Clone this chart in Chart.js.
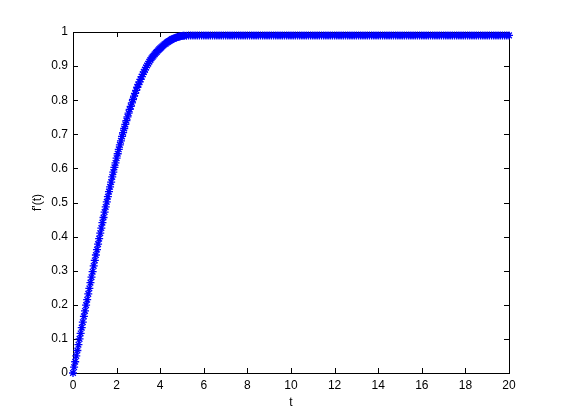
<!DOCTYPE html>
<html>
<head>
<meta charset="utf-8">
<script src="https://cdn.jsdelivr.net/npm/chart.js@4.4.1/dist/chart.umd.min.js"></script>
<style>
  html, body { margin: 0; padding: 0; background: #fff; }
  canvas { display: block; }
</style>
</head>
<body>
<canvas id="myChart" width="561" height="420"></canvas>
<script>
// t samples (dense on the rise, a bit coarser on the flat part)
const tValues = [
  0, 0.05, 0.1, 0.15, 0.2, 0.25, 0.3, 0.35, 0.4, 0.45,
  0.5, 0.55, 0.6, 0.65, 0.7, 0.75, 0.8, 0.85, 0.9, 0.95,
  1, 1.05, 1.1, 1.15, 1.2, 1.25, 1.3, 1.35, 1.4, 1.45,
  1.5, 1.55, 1.6, 1.65, 1.7, 1.75, 1.8, 1.85, 1.9, 1.95,
  2, 2.05, 2.1, 2.15, 2.2, 2.25, 2.3, 2.35, 2.4, 2.45,
  2.5, 2.55, 2.6, 2.65, 2.7, 2.75, 2.8, 2.85, 2.9, 2.95,
  3, 3.05, 3.1, 3.15, 3.2, 3.25, 3.3, 3.35, 3.4, 3.45,
  3.5, 3.55, 3.6, 3.65, 3.7, 3.75, 3.8, 3.85, 3.9, 3.95,
  4, 4.05, 4.1, 4.15, 4.2, 4.25, 4.3, 4.35, 4.4, 4.45,
  4.5, 4.55, 4.6, 4.65, 4.7, 4.75, 4.8, 4.85, 4.9, 4.95,
  5, 5.05, 5.1,
  5.2, 5.3, 5.4, 5.5, 5.6, 5.7, 5.8, 5.9, 6, 6.1,
  6.2, 6.3, 6.4, 6.5, 6.6, 6.7, 6.8, 6.9, 7, 7.1,
  7.2, 7.3, 7.4, 7.5, 7.6, 7.7, 7.8, 7.9, 8, 8.1,
  8.2, 8.3, 8.4, 8.5, 8.6, 8.7, 8.8, 8.9, 9, 9.1,
  9.2, 9.3, 9.4, 9.5, 9.6, 9.7, 9.8, 9.9, 10, 10.1,
  10.2, 10.3, 10.4, 10.5, 10.6, 10.7, 10.8, 10.9, 11, 11.1,
  11.2, 11.3, 11.4, 11.5, 11.6, 11.7, 11.8, 11.9, 12, 12.1,
  12.2, 12.3, 12.4, 12.5, 12.6, 12.7, 12.8, 12.9, 13, 13.1,
  13.2, 13.3, 13.4, 13.5, 13.6, 13.7, 13.8, 13.9, 14, 14.1,
  14.2, 14.3, 14.4, 14.5, 14.6, 14.7, 14.8, 14.9, 15, 15.1,
  15.2, 15.3, 15.4, 15.5, 15.6, 15.7, 15.8, 15.9, 16, 16.1,
  16.2, 16.3, 16.4, 16.5, 16.6, 16.7, 16.8, 16.9, 17, 17.1,
  17.2, 17.3, 17.4, 17.5, 17.6, 17.7, 17.8, 17.9, 18, 18.1,
  18.2, 18.3, 18.4, 18.5, 18.6, 18.7, 18.8, 18.9, 19, 19.1,
  19.2, 19.3, 19.4, 19.5, 19.6, 19.7, 19.8, 19.9, 20
];

// f'(t)
const fPrime = [
  0, 0.017, 0.033, 0.050, 0.066, 0.083, 0.100, 0.116, 0.133, 0.149,
  0.166, 0.182, 0.199, 0.215, 0.232, 0.248, 0.265, 0.281, 0.297, 0.314,
  0.330, 0.346, 0.362, 0.378, 0.394, 0.410, 0.425, 0.441, 0.456, 0.472,
  0.487, 0.502, 0.517, 0.532, 0.546, 0.560, 0.575, 0.589, 0.603, 0.616,
  0.630, 0.643, 0.656, 0.669, 0.681, 0.694, 0.705, 0.717, 0.729, 0.740,
  0.751, 0.762, 0.773, 0.782, 0.792, 0.802, 0.812, 0.820, 0.829, 0.838,
  0.846, 0.854, 0.861, 0.869, 0.876, 0.883, 0.889, 0.896, 0.902, 0.907,
  0.913, 0.918, 0.923, 0.927, 0.931, 0.935, 0.939, 0.942, 0.946, 0.949,
  0.952, 0.955, 0.958, 0.961, 0.964, 0.966, 0.969, 0.971, 0.973, 0.975,
  0.977, 0.979, 0.980, 0.982, 0.983, 0.984, 0.985, 0.986, 0.987, 0.988,
  0.988, 0.989, 0.989,
  0.989, 0.990, 0.990, 0.990, 0.990, 0.99, 0.99, 0.99, 0.99, 0.99,
  0.99, 0.99, 0.99, 0.99, 0.99, 0.99, 0.99, 0.99, 0.99, 0.99,
  0.99, 0.99, 0.99, 0.99, 0.99, 0.99, 0.99, 0.99, 0.99, 0.99,
  0.99, 0.99, 0.99, 0.99, 0.99, 0.99, 0.99, 0.99, 0.99, 0.99,
  0.99, 0.99, 0.99, 0.99, 0.99, 0.99, 0.99, 0.99, 0.99, 0.99,
  0.99, 0.99, 0.99, 0.99, 0.99, 0.99, 0.99, 0.99, 0.99, 0.99,
  0.99, 0.99, 0.99, 0.99, 0.99, 0.99, 0.99, 0.99, 0.99, 0.99,
  0.99, 0.99, 0.99, 0.99, 0.99, 0.99, 0.99, 0.99, 0.99, 0.99,
  0.99, 0.99, 0.99, 0.99, 0.99, 0.99, 0.99, 0.99, 0.99, 0.99,
  0.99, 0.99, 0.99, 0.99, 0.99, 0.99, 0.99, 0.99, 0.99, 0.99,
  0.99, 0.99, 0.99, 0.99, 0.99, 0.99, 0.99, 0.99, 0.99, 0.99,
  0.99, 0.99, 0.99, 0.99, 0.99, 0.99, 0.99, 0.99, 0.99, 0.99,
  0.99, 0.99, 0.99, 0.99, 0.99, 0.99, 0.99, 0.99, 0.99, 0.99,
  0.99, 0.99, 0.99, 0.99, 0.99, 0.99, 0.99, 0.99, 0.99, 0.99,
  0.99, 0.99, 0.99, 0.99, 0.99, 0.99, 0.99, 0.99, 0.99
];

const xTicks = [0, 2, 4, 6, 8, 10, 12, 14, 16, 18, 20];
const yTicks = [0, 0.1, 0.2, 0.3, 0.4, 0.5, 0.6, 0.7, 0.8, 0.9, 1];

const points = tValues.map((t, i) => ({ x: t, y: fPrime[i] }));
const tickFont = { family: 'Liberation Sans, Arial, sans-serif', size: 12 };

// matlab-style box with inward ticks on all four sides
const axesBox = {
  id: 'axesBox',
  beforeDatasetsDraw(chart) {
    const { ctx, chartArea: a, scales } = chart;
    const len = 5;
    ctx.save();
    ctx.strokeStyle = '#000';
    ctx.lineWidth = 1;
    ctx.strokeRect(a.left + 0.5, a.top + 0.5, a.right - a.left, a.bottom - a.top);
    ctx.beginPath();
    xTicks.forEach(v => {
      const px = Math.round(scales.x.getPixelForValue(v)) + 0.5;
      ctx.moveTo(px, a.bottom); ctx.lineTo(px, a.bottom - len);
      ctx.moveTo(px, a.top); ctx.lineTo(px, a.top + len);
    });
    yTicks.forEach(v => {
      const py = Math.round(scales.y.getPixelForValue(v)) + 0.5;
      ctx.moveTo(a.left, py); ctx.lineTo(a.left + len, py);
      ctx.moveTo(a.right, py); ctx.lineTo(a.right - len, py);
    });
    ctx.stroke();
    ctx.restore();
  }
};

new Chart(document.getElementById('myChart'), {
  type: 'scatter',
  data: {
    datasets: [{
      data: points,
      showLine: true,
      borderColor: '#0000ff',
      backgroundColor: '#0000ff',
      borderWidth: 1,
      pointStyle: 'star',
      pointRadius: 4,
      pointBorderWidth: 1.3,
      pointBorderColor: '#0000ff',
      clip: false
    }]
  },
  options: {
    responsive: false,
    animation: false,
    layout: { padding: { left: 0, top: 32, right: 52, bottom: 0 } },
    plugins: { legend: { display: false }, tooltip: { enabled: false } },
    scales: {
      x: {
        type: 'linear',
        min: 0, max: 20,
        afterFit(s) { s.height = 47; },
        afterBuildTicks(s) { s.ticks = xTicks.map(v => ({ value: v })); },
        grid: { display: false, drawTicks: false },
        border: { display: false },
        ticks: { color: '#000', font: tickFont, padding: 5, maxRotation: 0 },
        title: { display: true, text: 't', color: '#000', font: tickFont, padding: { top: 0, bottom: 10 } }
      },
      y: {
        type: 'linear',
        min: 0, max: 1,
        afterFit(s) { s.width = 73; },
        afterBuildTicks(s) { s.ticks = yTicks.map(v => ({ value: v })); },
        grid: { display: false, drawTicks: false },
        border: { display: false },
        ticks: { color: '#000', font: tickFont, padding: 5, callback: v => String(Math.round(v * 10) / 10) },
        title: { display: true, text: "f'(t)", color: '#000', font: tickFont, padding: { top: 30, bottom: 0 } }
      }
    }
  },
  plugins: [axesBox]
});
</script>
</body>
</html>
